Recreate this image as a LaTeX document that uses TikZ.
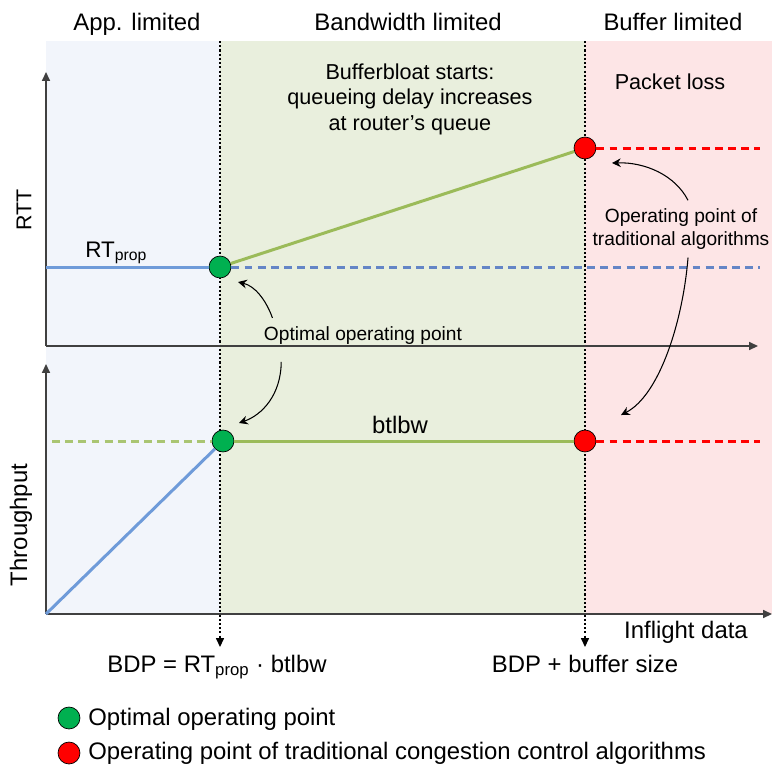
\documentclass[tikz,border=0pt]{standalone}
\usepackage{fontspec}
\setmainfont{Liberation Sans}
\usetikzlibrary{arrows.meta}
\definecolor{appbg}{HTML}{F2F5FB}
\definecolor{bwbg}{HTML}{E9EFDD}
\definecolor{bufbg}{HTML}{FDE5E6}
\definecolor{lineblue}{HTML}{6F9BD9}
\definecolor{dashblue}{HTML}{6485C6}
\definecolor{linegreen}{HTML}{9BBB59}
\definecolor{ptgreen}{HTML}{00B050}
\definecolor{ptred}{HTML}{FF0000}

\begin{document}
\begin{tikzpicture}[
    x=0.02cm, y=-0.02cm,
    big/.style={inner sep=0pt, font=\fontsize{13.6}{16}\selectfont},
    mid/.style={inner sep=0pt, align=center, font=\fontsize{12.3}{14.5}\selectfont},
    small/.style={inner sep=0pt, align=center, font=\fontsize{10.9}{13.1}\selectfont},
    axis/.style={draw=black!75, line width=0.8pt, -{Triangle[length=5pt,width=4.5pt]}},
    bound/.style={line width=0.7pt, dash pattern=on 1.2pt off 1.2pt, -{Triangle[length=5pt,width=4.5pt]}},
    hint/.style={line width=0.6pt, -{Stealth[length=5pt,width=5pt]}},
    optpt/.style={circle, draw, thin, fill=ptgreen, minimum size=12.5pt, inner sep=0pt},
    tradpt/.style={optpt, fill=ptred},
    solidln/.style={line width=1.7pt},
    dashln/.style={line width=1.7pt, dash pattern=on 4.5pt off 3pt}
]
\useasboundingbox (0,0) rectangle (772,769);

% regions
\fill[appbg] (46,41) rectangle (220,614);
\fill[bwbg] (220,41) rectangle (585,614);
\fill[bufbg] (585,41) rectangle (772,614);

\node[big, anchor=base] (applim) at (137,30) {App. limited};
\node[big, anchor=base] (bwlim) at (408,30) {Bandwidth limited};
\node[big, anchor=base] (buflim) at (673,30) {Buffer limited};

% region boundaries
\coordinate (bdptop) at (220,41);
\coordinate (bdpend) at (220,647);
\coordinate (buftop) at (585,41);
\coordinate (bufend) at (585,647);
\draw[bound] (bdptop) -- (bdpend);
\draw[bound] (buftop) -- (bufend);

% axes
\coordinate (rttorig) at (46,346);
\coordinate (rtttop) at (46,72);
\coordinate (rttright) at (758,346);
\coordinate (throrig) at (46,614);
\coordinate (thrtop) at (46,364);
\coordinate (thrright) at (772,614);
\draw[axis] (rttorig) -- (rtttop);
\draw[axis] (rttorig) -- (rttright);
\draw[axis] (throrig) -- (thrtop);
\draw[axis] (throrig) -- (thrright);

\node[inner sep=0pt, rotate=90, font=\fontsize{12.2}{14}\selectfont] (rttlbl) at (24,210) {RTT};
\node[big, rotate=90] (thrlbl) at (21,525) {Throughput};
\node[big, anchor=base] (inflbl) at (686,638) {Inflight data};

% RTT plot
\node[optpt] (optrtt) at (220,267) {};
\node[tradpt] (tradrtt) at (585,148) {};
\coordinate (rttleft) at (46,267);
\coordinate (rttend) at (760,267);
\coordinate (lossend) at (760,148);
\draw[solidln, lineblue] (rttleft) -- (optrtt);
\draw[dashln, dashblue] (optrtt) -- (rttend);
\draw[solidln, linegreen] (optrtt) -- (tradrtt);
\draw[dashln, ptred] (tradrtt) -- (lossend);
\node[inner sep=0pt, anchor=base west, font=\fontsize{12.8}{15}\selectfont] (rtprop) at (85,257) {RT\textsubscript{prop}};

\node[mid] (bloat) at (410,99) {Bufferbloat starts:\\queueing delay increases\\at router’s queue};
\node[mid, anchor=base] (loss) at (670,89) {Packet loss};

% throughput plot
\node[optpt] (optthr) at (223,441) {};
\node[tradpt] (tradthr) at (585,441) {};
\coordinate (bwleft) at (52,441);
\coordinate (bwend) at (760,441);
\draw[dashln, linegreen!85] (bwleft) -- (optthr);
\draw[solidln, lineblue] (throrig) -- (optthr);
\draw[solidln, linegreen] (optthr) -- (tradthr);
\draw[dashln, ptred] (tradthr) -- (bwend);
\node[big, anchor=base] (btlbw) at (400,433) {btlbw};

% annotations
\node[small, anchor=base] (optlbl) at (363,340) {Optimal operating point};
\node[small] (tradlbl) at (681,229) {Operating point of\\traditional algorithms};
\coordinate (optrtttip) at (238,282);
\coordinate (optthrtip) at (239,423);
\coordinate (tradrtttip) at (612,163);
\coordinate (tradthrtip) at (621,415);
\draw[hint] ([xshift=5pt, yshift=4.5pt]optlbl.north west) .. controls (266,300) and (255,286) .. (optrtttip);
\draw[hint] ([xshift=10pt, yshift=-10pt]optlbl.south west) .. controls (281,395) and (262,415) .. (optthrtip);
\draw[hint] ([xshift=4pt, yshift=4.5pt]tradlbl.north) .. controls (675,175) and (645,162) .. (tradrtttip);
\draw[hint] ([xshift=4pt, yshift=-4.5pt]tradlbl.south) .. controls (683,320) and (660,395) .. (tradthrtip);

% x positions
\node[big, anchor=base] (bdplbl) at (217,672) {BDP = RT\textsubscript{prop} · btlbw};
\node[big, anchor=base] (buflbl) at (585,672) {BDP + buffer size};

% legend
\node[optpt] (keyopt) at (69,718) {};
\node[tradpt] (keytrad) at (69,753) {};
\node[big, anchor=base west] (keyopttxt) at (88,725) {Optimal operating point};
\node[big, anchor=base west] (keytradtxt) at (88,759) {Operating point of traditional congestion control algorithms};
\end{tikzpicture}
\end{document}
